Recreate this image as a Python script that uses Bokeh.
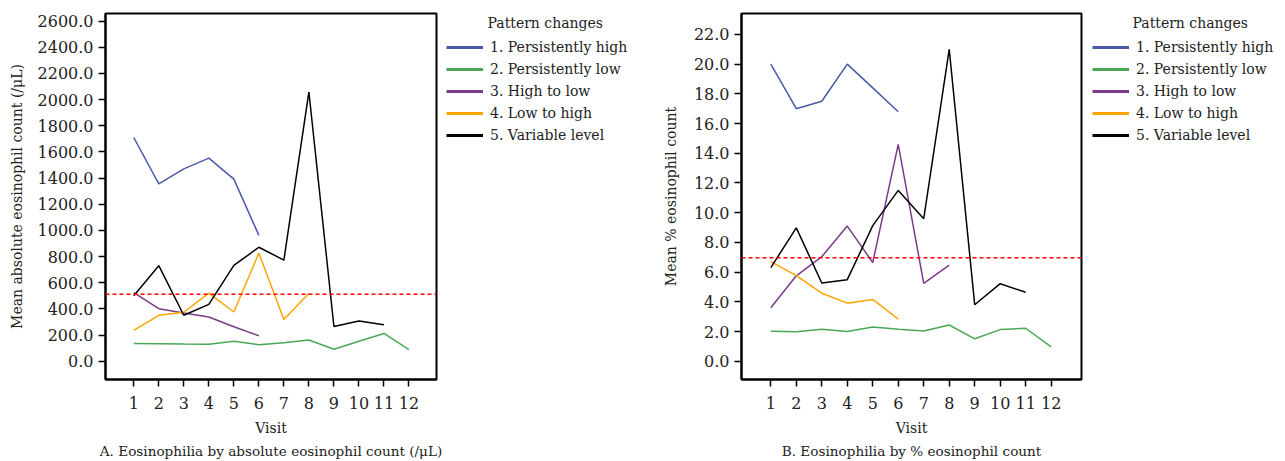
from bokeh.plotting import figure
from bokeh.models import (Legend, LegendItem, Span, Label, Title, FixedTicker,
                          NumeralTickFormatter, Range1d)
from bokeh.layouts import row
from bokeh.embed import file_html
from bokeh.resources import INLINE

visits = [1, 2, 3, 4, 5, 6, 7, 8, 9, 10, 11, 12]
series_names = ["1. Persistently high", "2. Persistently low", "3. High to low",
                "4. Low to high", "5. Variable level"]
colors = ["#4a5aa8", "#4aa855", "#7b3b88", "#ffa500", "#000000"]
legend_title = "Pattern changes"

# Panel A: mean absolute eosinophil count (/uL)
abs_high = [1710, 1355, 1470, 1552, 1392, 962]
abs_low = [136, 134, 131, 129, 152, 126, 141, 162, 91, 152, 212, 88]
abs_high_to_low = [525, 401, 369, 338, 263, 194]
abs_low_to_high = [235, 351, 374, 520, 376, 826, 318, 520]
abs_variable = [500, 730, 351, 434, 732, 871, 773, 2058, 265, 308, 278]
abs_threshold = 512

# Panel B: mean % eosinophil count
pct_high = [20.0, 17.0, 17.5, 20.0, 18.4, 16.8]
pct_low = [2.02, 1.98, 2.16, 2.0, 2.31, 2.16, 2.04, 2.44, 1.51, 2.13, 2.22, 0.96]
pct_high_to_low = [3.6, 5.75, 7.04, 9.1, 6.64, 14.6, 5.24, 6.47]
pct_low_to_high = [6.71, 5.76, 4.58, 3.91, 4.16, 2.84]
pct_variable = [6.3, 8.98, 5.27, 5.49, 9.13, 11.5, 9.6, 21.0, 3.8, 5.22, 4.64]
pct_threshold = 6.96

abs_ticks = list(range(0, 2601, 200))
pct_ticks = list(range(0, 23, 2))

FONT = "DejaVu Serif"
TXT = "#222222"
H = 461
TOP = 13
FH = 366
BOTTOM = H - TOP - FH


def make_panel(series, ticks, yrange, xrange, threshold, ylabel, subtitle,
               left, fwidth, right, ylabel_standoff):
    p = figure(width=left + fwidth + right, height=H,
               frame_width=fwidth, frame_height=FH,
               min_border_left=left, min_border_right=right,
               min_border_top=TOP, min_border_bottom=BOTTOM,
               output_backend="svg", toolbar_location=None,
               x_range=Range1d(*xrange), y_range=Range1d(*yrange))
    p.grid.visible = False
    p.outline_line_color = "black"
    p.outline_line_width = 2
    p.background_fill_color = "white"
    p.border_fill_color = "white"

    for ax in (p.xaxis[0], p.yaxis[0]):
        ax.axis_line_color = "black"
        ax.axis_line_width = 2
        ax.major_tick_line_color = "black"
        ax.major_tick_line_width = 1.5
        ax.major_tick_out = 7
        ax.major_tick_in = 0
        ax.minor_tick_line_color = None
        ax.major_label_text_font = FONT
        ax.major_label_text_font_size = "16px"
        ax.major_label_text_color = TXT
        ax.axis_label_text_font = FONT
        ax.axis_label_text_font_size = "14px"
        ax.axis_label_text_font_style = "normal"
        ax.axis_label_text_color = TXT

    p.xaxis.ticker = FixedTicker(ticks=visits)
    p.xaxis.axis_label = "Visit"
    p.xaxis.major_label_standoff = 10
    p.xaxis.axis_label_standoff = 8
    p.yaxis.ticker = FixedTicker(ticks=ticks)
    p.yaxis.formatter = NumeralTickFormatter(format="0.0")
    p.yaxis.axis_label = ylabel
    p.yaxis.major_label_standoff = 5
    p.yaxis.axis_label_standoff = ylabel_standoff

    p.add_layout(Span(location=threshold, dimension="width", line_color="red",
                      line_dash="4 3", line_width=1.5))

    for vals, col in zip(series, colors):
        p.line(visits[:len(vals)], vals, line_color=col, line_width=1.5)

    t = Title(text=subtitle, align="center", text_font=FONT,
              text_font_size="13.6px", text_font_style="normal",
              text_color=TXT, standoff=4)
    p.add_layout(t, "below")
    return p


def make_legend(width, series, glyph_x, title_x):
    q = figure(width=width, height=H, x_axis_type=None, y_axis_type=None,
               min_border_left=0, min_border_right=0, min_border_top=TOP,
               min_border_bottom=BOTTOM, output_backend="svg",
               toolbar_location=None, title=None,
               x_range=Range1d(0, 1), y_range=Range1d(0, 1))
    q.grid.visible = False
    q.outline_line_color = None
    q.background_fill_color = "white"
    q.border_fill_color = "white"
    items = []
    for name, vals, col in zip(series_names, series, colors):
        r = q.line(visits[:len(vals)], vals, line_color=col, line_width=3,
                   visible=False)
        items.append(LegendItem(label=name, renderers=[r]))
    first_top = 37
    leg_h = 5 * 20 + 4 * 2
    leg = Legend(items=items,
                 location=(glyph_x, (TOP + FH) - (first_top + leg_h)),
                 glyph_width=37, glyph_height=20, label_height=20,
                 spacing=2, padding=0, margin=0, label_standoff=7,
                 label_text_font=FONT, label_text_font_size="14px",
                 label_text_color=TXT,
                 border_line_color=None, background_fill_alpha=0)
    q.add_layout(leg, "center")
    q.add_layout(Label(x=title_x, y=(TOP + FH) - 22, x_units="screen",
                       y_units="screen", text=legend_title, text_font=FONT,
                       text_font_size="14px", text_color=TXT,
                       text_baseline="middle"))
    return q


series_a = [abs_high, abs_low, abs_high_to_low, abs_low_to_high, abs_variable]
series_b = [pct_high, pct_low, pct_high_to_low, pct_low_to_high, pct_variable]

pa = make_panel(series_a, abs_ticks, (-140, 2658), (-0.13, 13.1), abs_threshold,
                "Mean absolute eosinophil count (/μL)",
                "A. Eosinophilia by absolute eosinophil count (/μL)",
                105, 331, 9, 10)
la = make_legend(195, series_a, 1, 42)
pb = make_panel(series_b, pct_ticks, (-1.23, 23.41), (-0.15, 13.19), pct_threshold,
                "Mean % eosinophil count",
                "B. Eosinophilia by % eosinophil count",
                101, 340, 4, 12)
lb = make_legend(200, series_b, 7, 47)

layout = row(pa, la, pb, lb)
open("out.html", "w").write(file_html(layout, INLINE))
